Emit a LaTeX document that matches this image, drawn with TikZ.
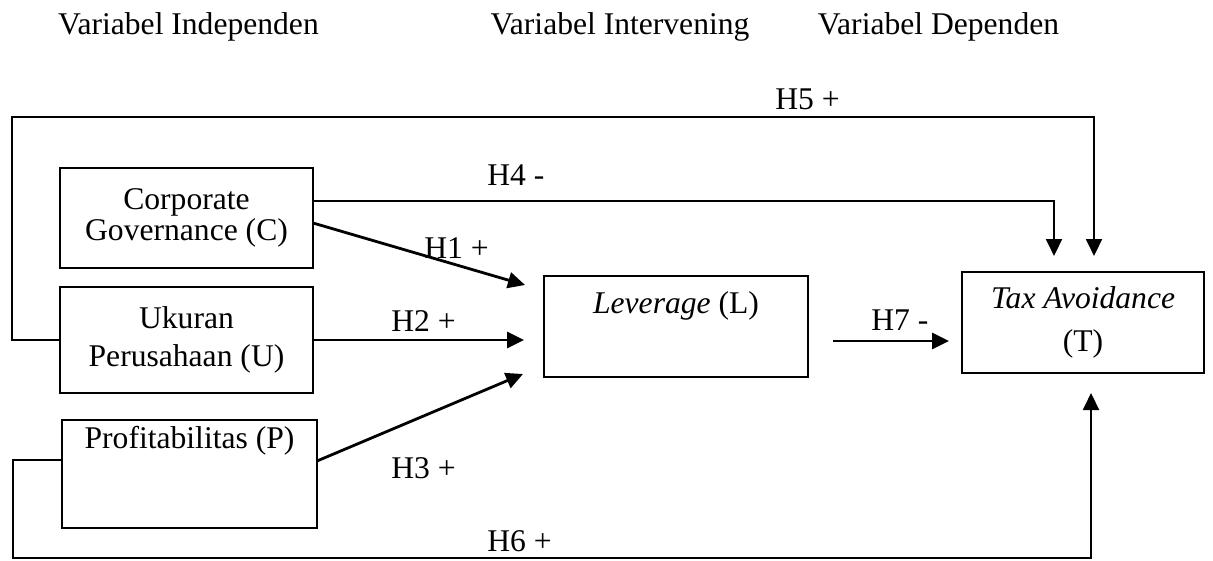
\documentclass[tikz,border=0pt]{standalone}
\usepackage{fontspec}
\setmainfont{Liberation Serif}
\usetikzlibrary{arrows.meta,calc}
\begin{document}
\begin{tikzpicture}[x=0.5pt,y=-0.5pt,
  every node/.style={font=\fontsize{15.8}{19}\selectfont},
  boxs/.style={draw,line width=0.9pt,inner sep=0pt,outer sep=0pt},
  box/.style={boxs,align=center},
  lbl/.style={anchor=base west,inner sep=0pt},
  ttl/.style={anchor=base,inner sep=0pt},
  arr/.style={line width=1.4pt,-{Triangle[length=8.5pt,width=8pt]}},
  larr/.style={line width=1pt,-{Triangle[length=8.5pt,width=8pt]}}
]
\useasboundingbox (0,0) rectangle (1213,561);

% titles
\node[ttl] (t1) at (188.5,35) {Variabel Independen};
\node[ttl] (t2) at (620,35) {Variabel Intervening};
\node[ttl] (t3) at (938.5,35) {Variabel Dependen};

% boxes
\node[box,minimum width=126.5pt,minimum height=50pt] (C) at (186.5,218) {Corporate\\[-3.5pt]Governance (C)};
\node[box,minimum width=126.5pt,minimum height=53pt] (U) at (186.5,340) {Ukuran\\Perusahaan (U)};
\node[boxs,minimum width=127.5pt,minimum height=54pt,text height=11pt,text depth=37pt] (P) at (189.5,474) {Profitabilitas (P)};
\node[boxs,minimum width=132pt,minimum height=50.5pt,text height=11pt,text depth=24.5pt] (L) at (676,326.5) {\textit{Leverage} (L)};
\node[box,minimum width=121pt,minimum height=50.5pt] (T) at (1083,322.5) {\textit{Tax Avoidance}\\[2.5pt](T)};

% arrow end points
\coordinate (a1) at ($(L.west)+(-19,-41.5)$);
\coordinate (a2) at ($(L.west)+(-20,13.5)$);
\coordinate (a3) at ($(L.west)+(-21,47.5)$);
\coordinate (a4) at ($(T.north)+(-29,-16)$);
\coordinate (a5) at ($(T.north)+(11,-16)$);
\coordinate (a6) at ($(T.south)+(8,20)$);
\coordinate (s7) at ($(L.east)+(25,14.5)$);
\coordinate (a7) at ($(T.west)+(-13,18.5)$);

% connectors
\draw[larr] (U.west) -- ++(-48,0) |- ($(a5)+(0,-139)$) -- (a5);
\draw[larr] ($(C.east)+(0,-17)$) -| (a4);
\draw[arr] ($(C.east)+(0,5)$) -- (a1);
\draw[arr] (U.east) -- (a2);
\draw[arr] ($(P.east)+(0,-13)$) -- (a3);
\draw[arr] (s7) -- (a7);
\draw[larr] ($(P.west)+(0,-14)$) -- ++(-49,0) |- ($(a6)+(0,165)$) -- (a6);

% labels
\node[lbl] (h5) at (775,110) {H5 +};
\node[lbl] (h4) at (487,185) {H4 -};
\node[lbl] (h1) at (424,258) {H1 +};
\node[lbl] (h2) at (391,331) {H2 +};
\node[lbl] (h3) at (391,478) {H3 +};
\node[lbl] (h6) at (487,551) {H6 +};
\node[lbl] (h7) at (871,330) {H7 -};
\end{tikzpicture}
\end{document}
